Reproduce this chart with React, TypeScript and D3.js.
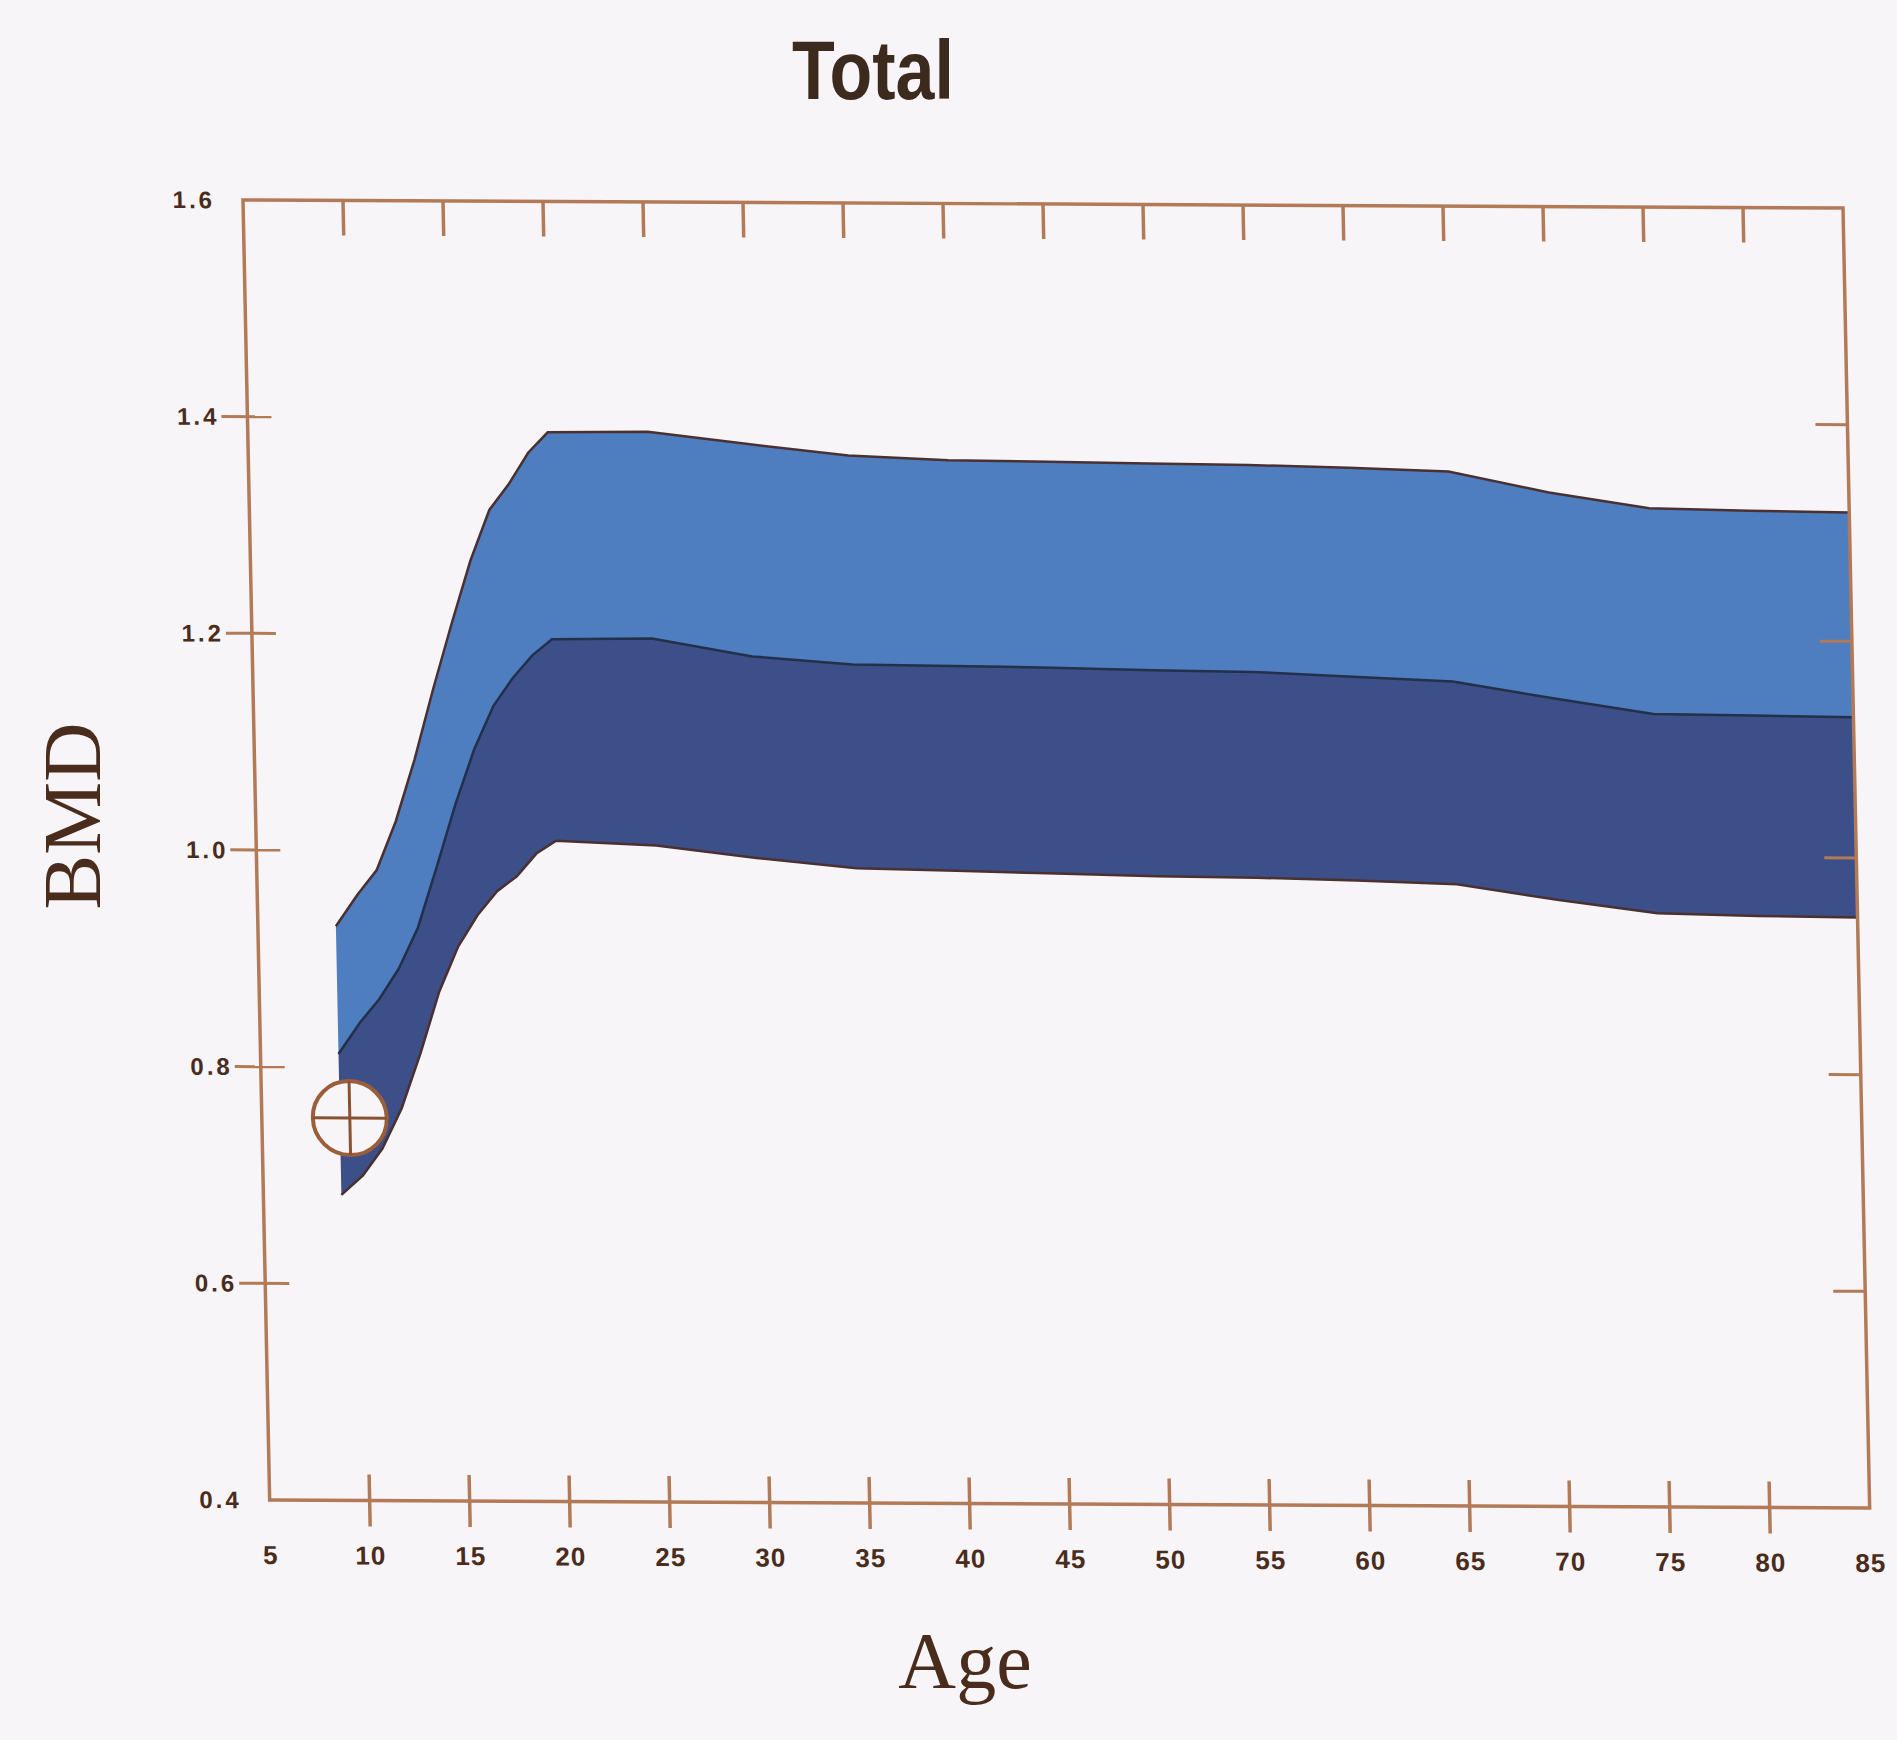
import { useEffect } from 'react';
import * as d3 from 'd3';

// reference band (age in years, BMD g/cm2)
const AGES = [8.9, 10, 11, 12, 13, 14, 15, 16, 17, 18, 19, 20, 25, 30, 35, 40, 45, 50, 55, 60, 65, 70, 75, 80, 85];
const UPPER = [0.930, 0.959, 0.982, 1.027, 1.084, 1.149, 1.210, 1.268, 1.315, 1.339, 1.368, 1.387, 1.388, 1.377, 1.367, 1.363, 1.362, 1.361, 1.360, 1.358, 1.355, 1.336, 1.322, 1.320, 1.319];
const MEAN = [0.812, 0.841, 0.863, 0.891, 0.929, 0.985, 1.043, 1.094, 1.134, 1.160, 1.181, 1.196, 1.197, 1.181, 1.174, 1.173, 1.172, 1.170, 1.169, 1.165, 1.161, 1.146, 1.132, 1.131, 1.130];
const LOWER = [0.682, 0.700, 0.725, 0.762, 0.813, 0.870, 0.912, 0.941, 0.963, 0.977, 0.998, 1.010, 1.006, 0.995, 0.986, 0.984, 0.982, 0.980, 0.979, 0.977, 0.974, 0.960, 0.948, 0.946, 0.945];

// the patient measurement
const PATIENT_AGE = 9.4;
const PATIENT_BMD = 0.753;

const X_TICKS = [5, 10, 15, 20, 25, 30, 35, 40, 45, 50, 55, 60, 65, 70, 75, 80, 85];
const Y_TICKS = [0.4, 0.6, 0.8, 1.0, 1.2, 1.4, 1.6];

const AXIS = '#b27a56';
const INK = '#4a2c1c';
const BG = '#f7f5f8';

export default function App() {
  useEffect(() => {
    document.body.style.margin = '0';
    document.body.style.background = BG;
  }, []);

  const width = 1897;
  const height = 1740;
  const W = 1600;
  const H = 1300;

  const x = d3.scaleLinear().domain([5, 85]).range([0, W]);
  const y = d3.scaleLinear().domain([0.4, 1.6]).range([H, 0]);

  const rows = AGES.map((age, i) => ({ age, hi: UPPER[i], mid: MEAN[i], lo: LOWER[i] }));

  const upperBand = d3.area<any>().x(d => x(d.age)).y0(d => y(d.mid)).y1(d => y(d.hi))(rows);
  const lowerBand = d3.area<any>().x(d => x(d.age)).y0(d => y(d.lo)).y1(d => y(d.mid))(rows);
  const line = (key: string) => d3.line<any>().x(d => x(d.age)).y(d => y(d[key]))(rows);

  const sans = "'Liberation Sans', Arial, sans-serif";
  const serif = "'Liberation Serif', 'Times New Roman', serif";

  const px = x(PATIENT_AGE);
  const py = y(PATIENT_BMD);
  const r = 37;

  return (
    <svg width={width} height={height} style={{ display: 'block', background: BG }}>
      <rect width={width} height={height} fill={BG} />

      <text transform="translate(873,99) scale(1,1.2)" textAnchor="middle"
        fontFamily={sans} fontWeight="bold" fontSize={70} fill="#3d2a1f">Total</text>

      <text transform="translate(100,816) rotate(-90)" textAnchor="middle"
        fontFamily={serif} fontSize={82} fill={INK}>BMD</text>

      <text x={965} y={1688} textAnchor="middle"
        fontFamily={serif} fontSize={80} fill={INK}>Age</text>

      {/* the scan is slightly sheared, so the plot is too */}
      <g transform="translate(243,200) matrix(1,0.005,0.0205,1,0,0)">
        <path d={upperBand || ''} fill="#4f7ec0" />
        <path d={lowerBand || ''} fill="#3d4f88" />
        <path d={line('hi') || ''} fill="none" stroke="#4a3030" strokeWidth={2.5} />
        <path d={line('mid') || ''} fill="none" stroke="#22304a" strokeWidth={2.5} />
        <path d={line('lo') || ''} fill="none" stroke="#4a3030" strokeWidth={2.5} />

        {/* frame */}
        <rect x={0} y={0} width={W} height={H} fill="none" stroke={AXIS} strokeWidth={3.5} />

        {X_TICKS.filter(t => t > 5 && t < 85).map(t => (
          <g key={'xt' + t}>
            <line x1={x(t)} x2={x(t)} y1={H - 26} y2={H + 26} stroke={AXIS} strokeWidth={3.5} />
            <line x1={x(t)} x2={x(t)} y1={0} y2={35} stroke={AXIS} strokeWidth={3.5} />
          </g>
        ))}
        {X_TICKS.map(t => (
          <text key={'xl' + t} x={x(t)} y={H + 64} textAnchor="middle"
            fontFamily={sans} fontWeight="bold" fontSize={26} letterSpacing={1} fill={INK}>{t}</text>
        ))}

        {Y_TICKS.filter(t => t > 0.41 && t < 1.59).map(t => (
          <g key={'yt' + t}>
            <line x1={-26} x2={24} y1={y(t)} y2={y(t)} stroke={AXIS} strokeWidth={3} />
            <line x1={W - 32} x2={W} y1={y(t)} y2={y(t)} stroke={AXIS} strokeWidth={3} />
          </g>
        ))}
        {Y_TICKS.map(t => (
          <text key={'yl' + t} x={-28} y={y(t)} dy="0.35em" textAnchor="end"
            fontFamily={sans} fontWeight="bold" fontSize={24} letterSpacing={3} fill={INK}>{d3.format('.1f')(t)}</text>
        ))}

        {/* patient marker */}
        <circle cx={px} cy={py} r={r} fill={BG} stroke="#9a5f3a" strokeWidth={4} />
        <line x1={px - r} x2={px + r} y1={py} y2={py} stroke="#8a5232" strokeWidth={3} />
        <line x1={px} x2={px} y1={py - r} y2={py + r} stroke="#8a5232" strokeWidth={3} />
      </g>
    </svg>
  );
}
